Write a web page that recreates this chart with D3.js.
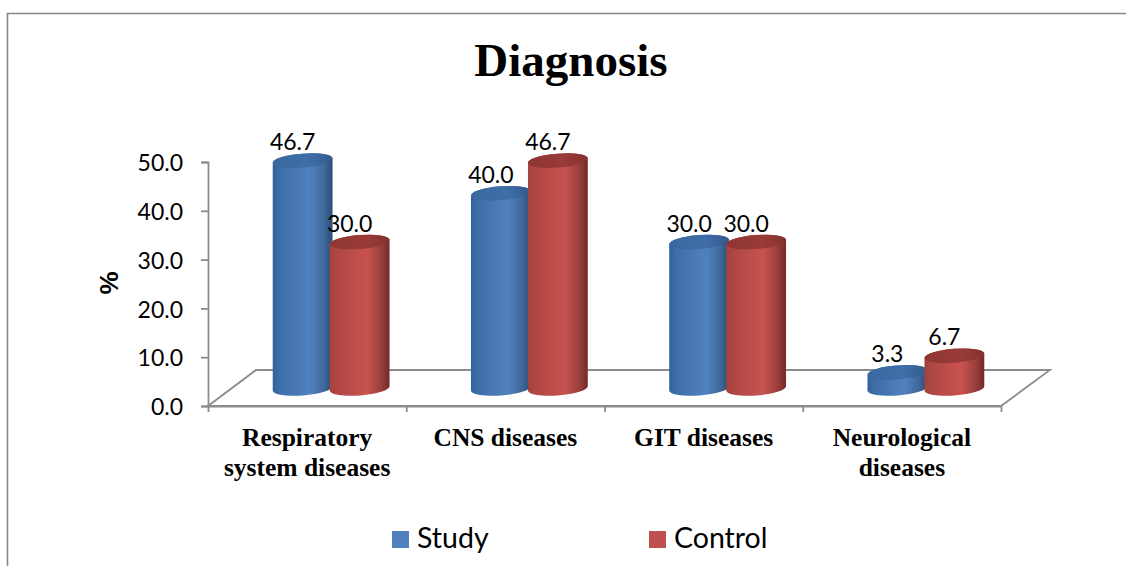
<!DOCTYPE html>
<html><head><meta charset="utf-8">
<script src="https://cdnjs.cloudflare.com/ajax/libs/d3/7.8.5/d3.min.js"></script>
<style>html,body{margin:0;padding:0;background:#fff}svg{display:block}</style>
</head><body><div id="c"></div>
<script>
const categories=[["Respiratory","system diseases"],["CNS diseases"],["GIT diseases"],["Neurological","diseases"]];
const seriesNames=["Study","Control"];
const study=[46.7,40.0,30.0,3.3];
const control=[30.0,46.7,30.0,6.7];
const yTicks=[0,10,20,30,40,50];
const W=1126,H=566;
const SANS="Lato, Carlito, 'Open Sans', sans-serif", SERIF="'Liberation Serif', 'Times New Roman', serif";
const svg=d3.select("#c").append("svg").attr("width",W).attr("height",H).attr("viewBox",`0 0 ${W} ${H}`);
const defs=svg.append("defs");
function grad(id,stops){const g=defs.append("linearGradient").attr("id",id).attr("x1",0).attr("x2",1).attr("y1",0).attr("y2",0);
 stops.forEach(([o,c])=>g.append("stop").attr("offset",o).attr("stop-color",c));}
grad("g0",[[0,"#33619a"],[.12,"#3e6ea8"],[.62,"#5082c0"],[.85,"#41699b"],[1,"#2b4d77"]]);
grad("g1",[[0,"#a2423f"],[.12,"#ae4744"],[.62,"#c8524f"],[.85,"#9c403d"],[1,"#722a28"]]);
grad("t0",[[0,"#3a679e"],[.6,"#3f6fa8"],[1,"#33598a"]]);
grad("t1",[[0,"#8f3633"],[.6,"#993b38"],[1,"#843230"]]);
// frame
svg.append("path").attr("d",`M7.5 566V13.5H${W}`).attr("fill","none").attr("stroke","#868686").attr("stroke-width",1.6);
// title
svg.append("text").attr("x",571).attr("y",76).attr("text-anchor","middle").attr("font-family",SERIF).attr("font-weight",700).attr("font-size",47).text("Diagnosis");
// scales
const plot={l:208,r:1001,b:406,t:162,dx:48,dy:36,base:388.5,shift:24.5};
const y=d3.scaleLinear().domain([0,50]).range([plot.b,plot.t]);
const x=d3.scaleBand().domain(d3.range(categories.length)).range([plot.l,plot.r]);
const xs=d3.scaleBand().domain([0,1]).range([-57.5,56.5]);
const GREY="#8c8c8c";
// floor
svg.append("path").attr("d",`M${plot.l} ${plot.b}L${plot.l+plot.dx} ${plot.b-plot.dy}H${plot.r+plot.dx+1}L${plot.r} ${plot.b}Z`).attr("fill","none").attr("stroke",GREY).attr("stroke-width",1.8);
// axes
const ay=svg.append("g").attr("transform",`translate(${plot.l},0)`).call(d3.axisLeft(y).tickValues(yTicks).tickFormat(d3.format(".1f")).tickSizeOuter(0).tickSize(7).tickPadding(18));
const ax=svg.append("g").attr("transform",`translate(0,${plot.b})`).call(d3.axisBottom(d3.scaleLinear().domain([0,4]).range([plot.l,plot.r])).tickValues(d3.range(5)).tickFormat("").tickSize(6).tickSizeOuter(0));
[ay,ax].forEach(a=>{a.selectAll("path,line").attr("stroke",GREY).attr("stroke-width",1.8);});
ay.selectAll("text").attr("font-family",SANS).attr("font-size",23).attr("fill","#000").attr("dy","0.38em");
// category labels
const cats=svg.append("g").selectAll("text").data(categories).join("text")
 .attr("text-anchor","middle").attr("font-family",SERIF).attr("font-weight",700).attr("font-size",25.5)
 .attr("transform",(d,i)=>`translate(${x(i)+x.bandwidth()/2},446)`);
cats.selectAll("tspan").data(d=>d).join("tspan").attr("x",0).attr("dy",(d,i)=>i?30:0).text(d=>d);
// y title
svg.append("text").attr("transform","translate(118,283) rotate(-90)").attr("text-anchor","middle").attr("font-family","'Liberation Sans',Arial,sans-serif").attr("font-weight",700).attr("font-size",26).text("%");
// cylinders
const TILT=-4.5, RY=7, rad=TILT*Math.PI/180;
const rows=[study,control];
const bars=[];
rows.forEach((vals,s)=>vals.forEach((v,i)=>bars.push({s,i,v})));
const h=v=>plot.b-y(v);
const g=svg.append("g");
const cyl=g.selectAll("g").data(bars).join("g").attr("transform",d=>`translate(${x(d.i)+x.bandwidth()/2+plot.shift+xs(d.s)+xs.bandwidth()/2},${plot.base})`);
const rx=xs.bandwidth()/2+1.5;
const ex=rx*Math.cos(rad), ey=rx*Math.sin(rad);
cyl.append("path").attr("fill",d=>`url(#g${d.s})`).attr("d",d=>{const t=-h(d.v);
 return `M${-ex} ${t-ey}L${-ex} ${-ey}A${rx} ${RY} ${TILT} 0 0 ${ex} ${ey}L${ex} ${t+ey}A${rx} ${RY} ${TILT} 0 0 ${-ex} ${t-ey}Z`;});
cyl.append("ellipse").attr("rx",rx).attr("ry",RY).attr("cy",d=>-h(d.v)).attr("fill",d=>`url(#t${d.s})`)
 .attr("transform",d=>`rotate(${TILT} 0 ${-h(d.v)})`);
// value labels
cyl.append("text").attr("text-anchor","middle").attr("font-family",SANS).attr("font-size",23)
 .attr("x",-10).attr("y",d=>-h(d.v)-10.5).text(d=>d.v.toFixed(1));
// legend
const lg=svg.append("g").selectAll("g").data(seriesNames).join("g").attr("transform",(d,i)=>`translate(${i?649:392},531)`);
lg.append("rect").attr("width",17).attr("height",17).attr("fill",(d,i)=>i?"#c0504d":"#4f81bd");
lg.append("text").attr("x",25).attr("y",17).attr("font-family",SANS).attr("font-size",28.5).text(d=>d);
</script></body></html>
